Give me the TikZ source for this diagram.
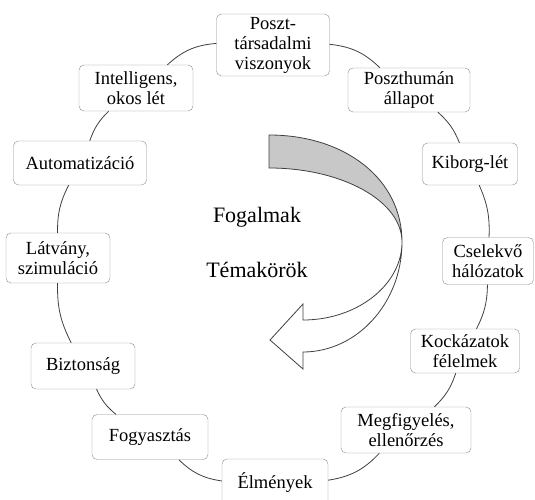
\documentclass[tikz,border=0pt]{standalone}
\usepackage{fontspec}
\setmainfont{Liberation Serif}
\usepackage{xcolor}
\definecolor{boxgray}{RGB}{140,140,140}
\definecolor{ribbongray}{RGB}{200,200,200}

\tikzset{
  topic/.style={draw=boxgray,rectangle,rounded corners=5pt,fill=white,align=center,
    inner sep=2pt,font=\fontsize{18.5}{20}\selectfont},
  link/.style={draw=black!75,line width=0.8pt},
  centre/.style={font=\fontsize{22}{24}\selectfont}
}

\begin{document}
\begin{tikzpicture}[x=1pt,y=1pt]
				\useasboundingbox (0,0) rectangle (535,499);
				% ring of topics, clockwise from the top
				\node[topic,minimum width=113,minimum height=62] (post) at (273,454) {Poszt-\\társadalmi\\viszonyok};
				\node[topic,minimum width=122,minimum height=44] (phum) at (409,409) {Poszthumán\\állapot};
				\node[topic,minimum width=95,minimum height=42] (kiborg) at (470,335) {Kiborg-lét};
				\node[topic,minimum width=91,minimum height=47] (cselek) at (488,238) {Cselekvő\\hálózatok};
				\node[topic,minimum width=109,minimum height=44] (kock) at (465,148) {Kockázatok\\félelmek};
				\node[topic,minimum width=130,minimum height=46] (megf) at (406,69) {Megfigyelés,\\ellenőrzés};
				\node[topic,minimum width=106,minimum height=48] (elm) at (275,16) {Élmények};
				\node[topic,minimum width=116,minimum height=45] (fogy) at (150,62) {Fogyasztás};
				\node[topic,minimum width=104,minimum height=46] (bizt) at (83,133) {Biztonság};
				\node[topic,minimum width=104,minimum height=50] (latv) at (58,241) {Látvány,\\szimuláció};
				\node[topic,minimum width=133,minimum height=44] (auto) at (80,336) {Automatizáció};
				\node[topic,minimum width=114,minimum height=46] (intel) at (136,411) {Intelligens,\\okos lét};
				\draw[link] (post) to[bend left=19] (phum);
				\draw[link] (phum) to[bend left=13] (kiborg);
				\draw[link] (kiborg) to[bend left=13] (cselek);
				\draw[link] (cselek) to[bend left=13] (kock);
				\draw[link] (kock) to[bend left=14] (megf);
				\draw[link] (megf) to[bend left=19] (elm);
				\draw[link] (elm) to[bend left=18] (fogy);
				\draw[link] (fogy) to[bend left=13] (bizt);
				\draw[link] (bizt) to[bend left=14] (latv);
				\draw[link] (latv) to[bend left=14] (auto);
				\draw[link] (auto) to[bend left=13] (intel);
				\draw[link] (intel) to[bend left=19] (post);
				% turning arrow in the middle
				\draw[link,fill=ribbongray] (269,364) .. controls (345,364) and (402,320) .. (402,257)
				  .. controls (402,298) and (342,331) .. (269,331) -- cycle;
				\draw[link,fill=white] (402,257) .. controls (402,196) and (357,147) .. (303,147)
				  -- (303,130) -- (270,159) -- (303,195) -- (303,179)
				  .. controls (357,179) and (402,214) .. (402,257);
				\node[centre] (fog) at (257,282) {Fogalmak};
				\node[centre] (tem) at (257,229) {Témakörök};
			\end{tikzpicture}
\end{document}
